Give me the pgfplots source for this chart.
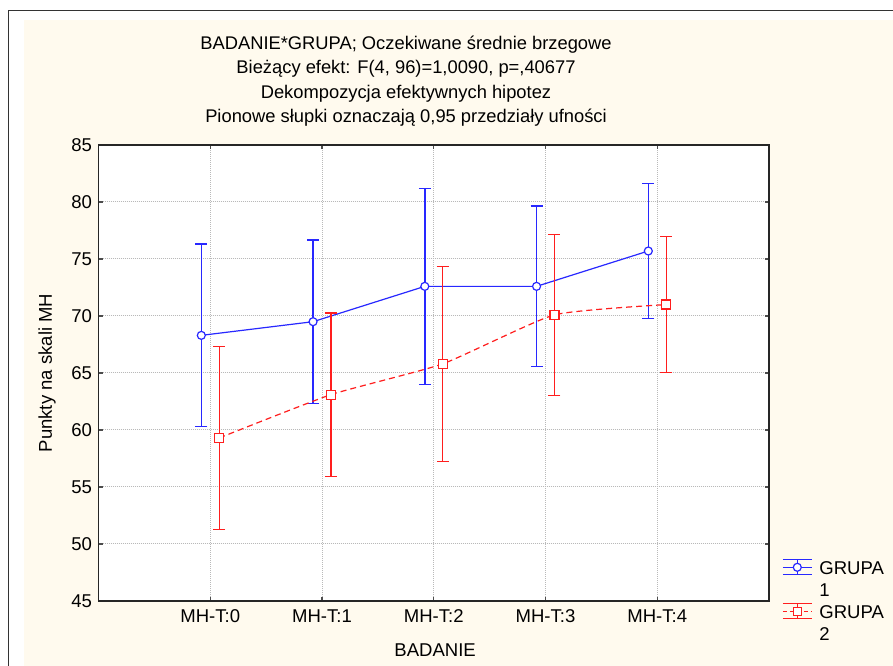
\documentclass[border=0pt]{standalone}
\usepackage{fontspec}
\setmainfont{Liberation Sans}
\usepackage{pgfplots}
\pgfplotsset{compat=1.18}
\definecolor{cream}{RGB}{255,250,238}
\definecolor{bblue}{RGB}{40,40,255}
\definecolor{rred}{RGB}{255,30,30}
\definecolor{gridc}{RGB}{185,185,185}
\begin{document}
\begin{tikzpicture}[x=1bp,y=1bp]
\useasboundingbox (0,0) rectangle (893,666);
\fill[white] (0,0) rectangle (893,666);
\fill[cream] (24,0) rectangle (893,645.5);
\draw[line width=1.3bp, black!80] (8.5,0) -- (8.5,655.5) -- (893,655.5);
\node[align=center, font=\fontsize{18.4}{24.5}\selectfont] at (406,585) {BADANIE*GRUPA; Oczekiwane średnie brzegowe\\Bieżący efekt: F(4, 96)=1,0090, p=,40677\\Dekompozycja efektywnych hipotez\\Pionowe słupki oznaczają 0,95 przedziały ufności};
\begin{axis}[
  at={(98.5bp,65bp)}, anchor=south west, scale only axis,
  width=670.5bp, height=456bp,
  xmin=-1, xmax=5, ymin=45, ymax=85,
  xtick={0,1,2,3,4},
  xticklabels={MH-T:0,MH-T:1,MH-T:2,MH-T:3,MH-T:4},
  ytick={45,50,55,60,65,70,75,80,85},
  tick align=inside, major tick length=4bp,
  grid=major, major grid style={gridc, dash pattern=on 1bp off 1bp, line width=1bp},
  axis line style={line width=1.3bp, black!85},
  tick style={line width=1.3bp, black!70},
  axis background/.style={fill=white},
  /pgf/number format/assume math mode=true,
  ticklabel style={font=\fontsize{18.6}{21}\selectfont},
  xticklabel style={yshift=-5bp},
  yticklabel style={xshift=-3bp},
  label style={font=\fontsize{18.6}{21}\selectfont},
  xlabel={BADANIE}, ylabel={Punkty na skali MH},
  xlabel style={at={(axis description cs:0.502,-0.1075)}, anchor=center},
  ylabel style={at={(axis description cs:-0.0765,0.5)}, anchor=center},
  legend style={draw=none, fill=none, at={(1,0)}, anchor=north west, xshift=10bp, yshift=44bp,
    font=\fontsize{18.6}{22}\selectfont,
    nodes={text height=13.5bp, text depth=3bp, inner sep=1bp},
    cells={anchor=base west}, row sep=3bp, column sep=6bp},
]
\addplot[forget plot, bblue, line width=1.2bp, mark=*, mark size=4bp, mark options={fill=white, solid},
  error bars/.cd, y dir=both, y explicit,
  error bar style={line width=1.4bp, solid},
  error mark options={rotate=90, line width=1.4bp, mark size=6bp}]
  coordinates {
  (-0.08,68.3) +- (0,8.0)
  (0.92,69.5) +- (0,7.15)
  (1.92,72.6) +- (0,8.6)
  (2.92,72.6) +- (0,7.05)
  (3.92,75.7) +- (0,5.9)
  };
\addplot[forget plot, rred, line width=1.2bp, smooth, tension=0.3, dash pattern=on 6bp off 4bp,
  mark=square*, mark size=4.5bp, mark options={fill=white, solid},
  error bars/.cd, y dir=both, y explicit,
  error bar style={line width=1.3bp, solid},
  error mark options={rotate=90, line width=1.3bp, mark size=6bp}]
  coordinates {
  (0.08,59.3) +- (0,8.0)
  (1.08,63.1) +- (0,7.15)
  (2.08,65.8) +- (0,8.55)
  (3.08,70.1) +- (0,7.05)
  (4.08,71.0) +- (0,5.95)
  };
\addlegendimage{legend image code/.code={
  \path[draw=bblue, line width=1.2bp, solid] (0bp,0bp) -- (29bp,0bp) (0bp,15bp) -- (29bp,15bp)
     (14.5bp,0bp) -- (14.5bp,15bp) (0bp,7.5bp) -- (29bp,7.5bp);
  \path[draw=bblue, line width=1.2bp, fill=white, solid] (14.5bp,7.5bp) circle (4bp);
}}
\addlegendentry{GRUPA}
\addlegendimage{empty legend}
\addlegendentry{1}
\addlegendimage{legend image code/.code={
  \path[draw=rred, line width=1.2bp, solid] (0bp,0bp) -- (29bp,0bp) (0bp,15bp) -- (29bp,15bp)
     (14.5bp,0bp) -- (14.5bp,15bp);
  \path[draw=rred, line width=1.2bp, dash pattern=on 4bp off 3bp] (0bp,7.5bp) -- (29bp,7.5bp);
  \path[draw=rred, line width=1.2bp, fill=white, solid] (10.5bp,3.5bp) rectangle (18.5bp,11.5bp);
}}
\addlegendentry{GRUPA}
\addlegendimage{empty legend}
\addlegendentry{2}
\end{axis}
\end{tikzpicture}
\end{document}
